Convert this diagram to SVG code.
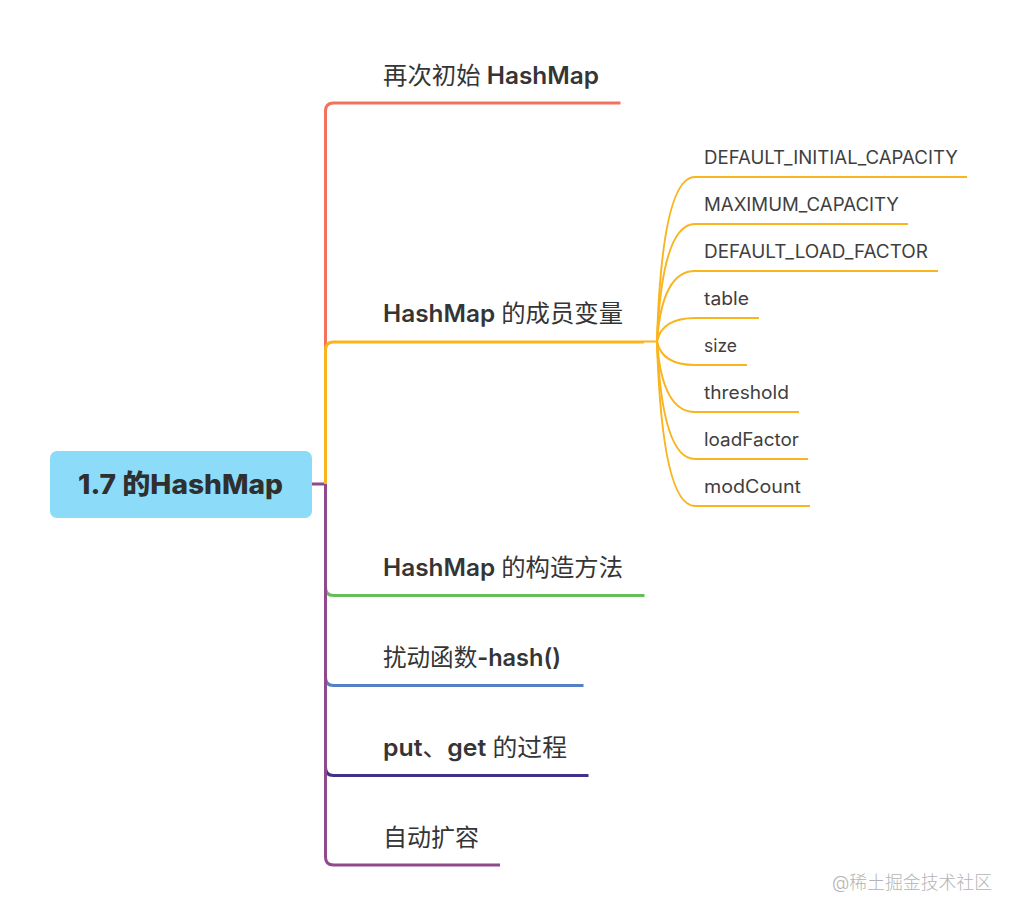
<svg xmlns="http://www.w3.org/2000/svg" width="1016" height="917" viewBox="0 0 1016 917">
<style>
.b{fill:none;stroke-width:3}
.c{fill:none;stroke:#f9b41e;stroke-width:2}
text{font-family:"Inter","Noto Sans CJK SC",sans-serif;fill:#353535}
.t1{font-size:24px;font-weight:600}
.t1 tspan{font-weight:400}
.t2{font-size:18px;fill:#3f3f3f}
.r{font-size:27px;font-weight:800;fill:#2f2f2f}
.w{font-size:18px;font-weight:300;fill:#b4b4b4}
</style>
<rect width="1016" height="917" fill="#fff"/>
<g id="connectors">
<path class="b" stroke="#f4705f" d="M325.500 484V111Q325.500 103 333.500 103H620.500"/>
<path class="b" stroke="#67bd5a" d="M325.500 484V587Q325.500 595.500 333.500 595.500H644.500"/>
<path class="b" stroke="#5480c6" d="M325.500 484V677Q325.500 685.500 333.500 685.500H583.500"/>
<path class="b" stroke="#40318c" d="M325.500 484V767Q325.500 775.500 333.500 775.500H588.500"/>
<path class="b" stroke="#8f4a8e" d="M312 484H325.500V857Q325.500 865 333.500 865H500"/>
<path class="b" stroke="#f9b41e" d="M325.500 484V350Q325.500 342 333.500 342H644"/>
<path class="c" d="M644 341.500H657Q662 177 695 177H967"/>
<path class="c" d="M657 341.500Q662 224 695 224H908"/>
<path class="c" d="M657 341.500Q662 271 695 271H938"/>
<path class="c" d="M657 341.500Q662 318 695 318H759"/>
<path class="c" d="M657 341.500Q662 365 695 365H747"/>
<path class="c" d="M657 341.500Q662 412 695 412H799"/>
<path class="c" d="M657 341.500Q662 459 695 459H808"/>
<path class="c" d="M657 341.500Q662 506 695 506H810"/>
</g>
<g id="root"><rect x="50" y="451" width="262" height="67" rx="7" fill="#8cdcf9"/><text class="r" x="78" y="494" textLength="205" lengthAdjust="spacingAndGlyphs">1.7 的HashMap</text></g>
<g id="n1"><text class="t1" x="383" y="84" textLength="216" lengthAdjust="spacingAndGlyphs"><tspan>再次初始</tspan> HashMap</text></g>
<g id="n2"><text class="t1" x="383" y="322" textLength="240" lengthAdjust="spacingAndGlyphs">HashMap <tspan>的成员变量</tspan></text></g>
<g id="n3"><text class="t1" x="383" y="576" textLength="240" lengthAdjust="spacingAndGlyphs">HashMap <tspan>的构造方法</tspan></text></g>
<g id="n4"><text class="t1" x="383" y="666" textLength="178" lengthAdjust="spacingAndGlyphs"><tspan>扰动函数</tspan>-hash()</text></g>
<g id="n5"><text class="t1" x="383" y="756" textLength="184" lengthAdjust="spacingAndGlyphs">put<tspan>、</tspan>get <tspan>的过程</tspan></text></g>
<g id="n6"><text class="t1" x="383" y="846" textLength="96" lengthAdjust="spacingAndGlyphs"><tspan>自动扩容</tspan></text></g>
<g id="c1"><text class="t2" x="704" y="164" textLength="254" lengthAdjust="spacingAndGlyphs">DEFAULT_INITIAL_CAPACITY</text></g>
<g id="c2"><text class="t2" x="704" y="211" textLength="195" lengthAdjust="spacingAndGlyphs">MAXIMUM_CAPACITY</text></g>
<g id="c3"><text class="t2" x="704" y="258" textLength="224" lengthAdjust="spacingAndGlyphs">DEFAULT_LOAD_FACTOR</text></g>
<g id="c4"><text class="t2" x="704" y="305" textLength="45" lengthAdjust="spacingAndGlyphs">table</text></g>
<g id="c5"><text class="t2" x="704" y="352" textLength="33" lengthAdjust="spacingAndGlyphs">size</text></g>
<g id="c6"><text class="t2" x="704" y="399" textLength="85" lengthAdjust="spacingAndGlyphs">threshold</text></g>
<g id="c7"><text class="t2" x="704" y="446" textLength="95" lengthAdjust="spacingAndGlyphs">loadFactor</text></g>
<g id="c8"><text class="t2" x="704" y="493" textLength="97" lengthAdjust="spacingAndGlyphs">modCount</text></g>
<text class="w" x="832" y="889" textLength="160" lengthAdjust="spacingAndGlyphs">@稀土掘金技术社区</text>
</svg>
